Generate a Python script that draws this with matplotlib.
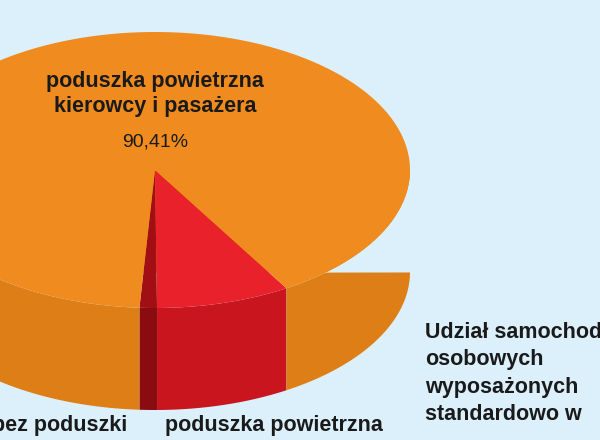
import numpy as np
import matplotlib.pyplot as plt
from matplotlib.patches import Polygon

# slice data (percent)
labels = ["bez poduszki", "poduszka powietrzna kierowcy", "poduszka powietrzna\nkierowcy i pasażera"]
values = [1.1, 8.49, 90.41]
top_colors = ["#a10f14", "#e8212b", "#f08c1f"]
side_colors = ["#8a0b10", "#c9161e", "#de7e16"]

bg = "#dcf0fb"
fig = plt.figure(figsize=(6, 4.4), dpi=100, facecolor=bg)
ax = fig.add_axes([0, 0, 1, 1])
ax.set_xlim(0, 600)
ax.set_ylim(440, 0)
ax.axis("off")

cx, cy, rx, ry, depth = 155, 170, 255, 138, 102

def pt(t, dy=0):
    return cx + rx * np.cos(t), cy - ry * np.sin(t) + dy

# angles: start just left of straight down, go counterclockwise
start = np.deg2rad(-93.5)
bounds = [start]
for v in values:
    bounds.append(bounds[-1] + 2 * np.pi * v / 100)

# sides first (front half only)
for i in range(3):
    t = np.linspace(bounds[i], bounds[i + 1], 300)
    t = t[np.sin(t) <= 0.001]
    if len(t) < 2:
        continue
    x, y = pt(t)
    xs = np.concatenate([x, x[::-1]])
    ys = np.concatenate([y, (y + depth)[::-1]])
    ax.add_patch(Polygon(np.column_stack([xs, ys]), closed=True,
                         facecolor=side_colors[i], edgecolor="none"))

# top faces
for i in range(3):
    t = np.linspace(bounds[i], bounds[i + 1], 300)
    x, y = pt(t)
    xs = np.concatenate([[cx], x])
    ys = np.concatenate([[cy], y])
    ax.add_patch(Polygon(np.column_stack([xs, ys]), closed=True,
                         facecolor=top_colors[i], edgecolor="none"))

font = "Liberation Sans"
ax.text(155, 94, labels[2], ha="center", va="center", fontsize=15.5,
        fontweight="bold", family=font, linespacing=1.3, color="#1a1a1a")
ax.text(155, 142, "90,41%", ha="center", va="center", fontsize=14,
        family=font, color="#1a1a1a")
ax.text(-8, 425, "bez poduszki", ha="left", va="center", fontsize=15.5,
        fontweight="bold", family=font, color="#1a1a1a")
ax.text(165, 425, "poduszka powietrzna", ha="left", va="center", fontsize=15.5,
        fontweight="bold", family=font, color="#1a1a1a")
ax.text(425, 322, "Udział samochodów\nosobowych\nwyposażonych\nstandardowo w", ha="left",
        va="top", fontsize=15.5, fontweight="bold", family=font,
        linespacing=1.4, color="#1a1a1a")

fig.savefig("out.png", dpi=100, facecolor=bg)
